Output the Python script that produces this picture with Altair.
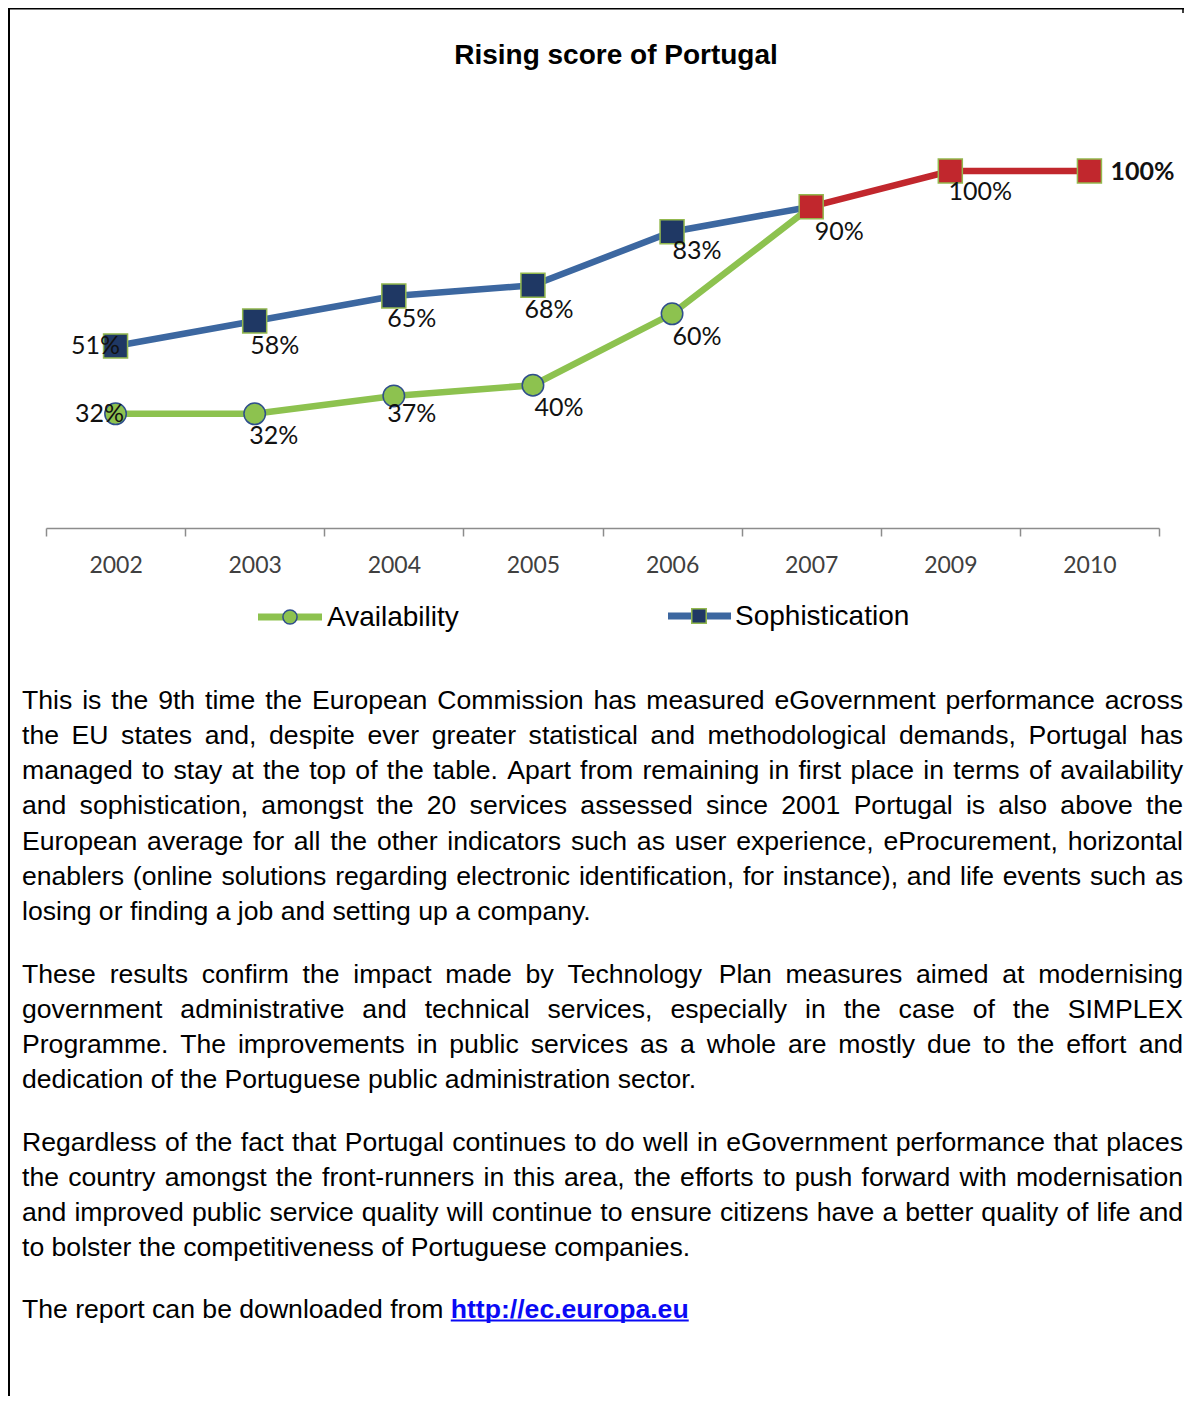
import altair as alt
import pandas as pd

# ---------------- data ----------------
YEARS = ["2002", "2003", "2004", "2005", "2006", "2007", "2009", "2010"]
AVAILABILITY = [32, 32, 37, 40, 60, 90, 100, 100]
SOPHISTICATION = [51, 58, 65, 68, 83, 90, 100, 100]
TITLE = "Rising score of Portugal"
LEGEND = ["Availability", "Sophistication"]

P1 = [
    "This is the 9th time the European Commission has measured eGovernment performance across",
    "the EU states and, despite ever greater statistical and methodological demands, Portugal has",
    "managed to stay at the top of the table. Apart from remaining in first place in terms of availability",
    "and sophistication, amongst the 20 services assessed since 2001 Portugal is also above the",
    "European average for all the other indicators such as user experience, eProcurement, horizontal",
    "enablers (online solutions regarding electronic identification, for instance), and life events such as",
    "losing or finding a job and setting up a company.",
]
P2 = [
    "These results confirm the impact made by Technology Plan measures aimed at modernising",
    "government administrative and technical services, especially in the case of the SIMPLEX",
    "Programme. The improvements in public services as a whole are mostly due to the effort and",
    "dedication of the Portuguese public administration sector.",
]
P3 = [
    "Regardless of the fact that Portugal continues to do well in eGovernment performance that places",
    "the country amongst the front-runners in this area, the efforts to push forward with modernisation",
    "and improved public service quality will continue to ensure citizens have a better quality of life and",
    "to bolster the competitiveness of Portuguese companies.",
]
LINK_PREFIX = "The report can be downloaded from"
LINK = "http://ec.europa.eu"

# ---------------- layout / style ----------------
W, H = 1176, 1388
X_RANGE = [38, 1151]
Y_RANGE = [520, 163]

C_GREEN = "#8DC24F"
C_BLUE_LINE = "#3C67A0"
C_NAVY = "#1F3864"
C_RED = "#C1272D"
C_CIRCLE_EDGE = "#2F4E8C"
C_SQ_EDGE = "#93B84E"
LABEL_COLOR = "#111111"

# label offsets (pixels) for points where the two series differ, then where they coincide
AV_LABEL_DX = [-16, 19, 18, 26, 25]
AV_LABEL_DY = [0, 22, 18, 23, 23]
SO_LABEL_DX = [-20, 20, 18, 16, 25]
SO_LABEL_DY = [0, 25, 23, 25, 19]
BOTH_LABEL_DX = [28, 30, 53]
BOTH_LABEL_DY = [25, 21, 1]

BODY_FONT = "Liberation Sans"
BODY_SIZE = 26.6
TX0, TX1 = 14, 1175
LINE_H = 35.3

# Arial / Liberation Sans advance widths (per 1000 em)
_W = {" ": 278, ".": 278, ",": 278, "(": 333, ")": 333, "-": 333, "/": 278, ":": 278, "'": 191, "%": 889}
for _c in "0123456789":
    _W[_c] = 556
_W.update(dict(A=667, B=667, C=722, D=722, E=667, F=611, G=778, H=722, I=278, J=500, K=667, L=556, M=833,
               N=722, O=778, P=667, Q=778, R=722, S=667, T=611, U=722, V=667, W=944, X=667, Y=667, Z=611))
_W.update(dict(a=556, b=556, c=500, d=556, e=556, f=278, g=556, h=556, i=222, j=222, k=500, l=222, m=833,
               n=556, o=556, p=556, q=556, r=333, s=500, t=278, u=556, v=500, w=722, x=500, y=500, z=500))
_WB = {"h": 611, "t": 333, "p": 611, ":": 333, "/": 278, "e": 556, "c": 556, ".": 278, "u": 611,
       "r": 389, "o": 611, "a": 556}


def tw(s, size=BODY_SIZE, table=_W):
    return sum(table.get(ch, 556) for ch in s) * size / 1000.0


def layout(lines, y0):
    left, right = [], []
    for i, line in enumerate(lines):
        y = y0 + i * LINE_H
        if i == len(lines) - 1:
            left.append({"t": line, "x": TX0, "y": y})
            continue
        words = line.split(" ")
        widths = [tw(w) for w in words]
        gap = (TX1 - TX0 - sum(widths)) / (len(words) - 1)
        x = TX0
        for j, (w, ww) in enumerate(zip(words, widths)):
            if j == len(words) - 1:
                right.append({"t": w, "x": TX1, "y": y})
            else:
                left.append({"t": w, "x": x, "y": y})
            x += ww + gap
    return left, right


rows_l, rows_r = [], []
for lines, y0 in [(P1, 700.5), (P2, 974.5), (P3, 1142.5)]:
    a, b = layout(lines, y0)
    rows_l += a
    rows_r += b
P4_Y = 1309.5
rows_l.append({"t": LINK_PREFIX, "x": TX0, "y": P4_Y})
link_x = TX0 + tw(LINK_PREFIX + " ")
link_w = tw(LINK, table=_WB)

words_left = pd.DataFrame(rows_l)
words_right = pd.DataFrame(rows_r)

# ---------------- chart data ----------------
av = pd.DataFrame({"year": YEARS, "value": AVAILABILITY})
so = pd.DataFrame({"year": YEARS, "value": SOPHISTICATION})
same = [a == s for a, s in zip(AVAILABILITY, SOPHISTICATION)]
first_same = same.index(True)
av_line = av.iloc[: first_same + 1]
so_line = so.iloc[: first_same + 1]
both = so[same].reset_index(drop=True)
diff = [not s for s in same]
av_pts = av[diff].reset_index(drop=True)
so_pts = so[diff].reset_index(drop=True)

XSCALE = alt.Scale(domain=YEARS, range=X_RANGE, paddingInner=0, paddingOuter=0)
YSCALE = alt.Scale(domain=[0, 100], range=Y_RANGE)

AXIS = alt.Axis(title=None, domainColor="#8C8C8C", domainWidth=1.5, tickColor="#8C8C8C", tickWidth=1.5,
                tickSize=8, tickBand="extent", labelFont="Lato", labelFontSize=23, labelColor="#404040",
                labelPadding=18, labelAngle=0, grid=False, offset=520 - H)


def X(axis=None):
    if axis is None:
        return alt.X("year:N", sort=YEARS, scale=XSCALE, axis=None)
    return alt.X("year:N", sort=YEARS, scale=XSCALE, axis=axis)


def Y():
    return alt.Y("value:Q", scale=YSCALE, axis=None)


one = pd.DataFrame({"d": [0]})
layers = []

# border
layers.append(alt.Chart(one).mark_rule(color="black", strokeWidth=1.5).encode(
    x=alt.value(0), x2=alt.value(W), y=alt.value(0.75)))
layers.append(alt.Chart(one).mark_rule(color="black", strokeWidth=2).encode(
    x=alt.value(1), y=alt.value(0), y2=alt.value(H)))
layers.append(alt.Chart(one).mark_rule(color="black", strokeWidth=1.5).encode(
    x=alt.value(W - 1), y=alt.value(0), y2=alt.value(5)))

# title
layers.append(alt.Chart(one).mark_text(text=TITLE, font=BODY_FONT, fontSize=28, fontWeight="bold",
                                       align="center", baseline="alphabetic", color="black").encode(
    x=alt.value(608), y=alt.value(56)))

# lines
layers.append(alt.Chart(av_line).mark_line(color=C_GREEN, strokeWidth=6.5).encode(x=X(AXIS), y=Y()))
layers.append(alt.Chart(so_line).mark_line(color=C_BLUE_LINE, strokeWidth=6.5).encode(x=X(), y=Y()))
layers.append(alt.Chart(both).mark_line(color=C_RED, strokeWidth=6.5).encode(x=X(), y=Y()))

# markers
layers.append(alt.Chart(av_pts).mark_point(shape="circle", filled=True, size=460, fill=C_GREEN,
                                           stroke=C_CIRCLE_EDGE, strokeWidth=1.5, opacity=1).encode(x=X(), y=Y()))
layers.append(alt.Chart(so_pts).mark_point(shape="square", filled=True, size=576, fill=C_NAVY,
                                           stroke=C_SQ_EDGE, strokeWidth=1.5, opacity=1).encode(x=X(), y=Y()))
layers.append(alt.Chart(both).mark_point(shape="square", filled=True, size=576, fill=C_RED,
                                         stroke=C_SQ_EDGE, strokeWidth=1.5, opacity=1).encode(x=X(), y=Y()))

# value labels
def label_layers(df, dxs, dys, bold_last=False):
    out = []
    for i in range(len(df)):
        row = df.iloc[[i]].copy()
        row["lbl"] = [f"{int(v)}%" for v in row["value"]]
        weight = "bold" if (bold_last and i == len(df) - 1) else "normal"
        out.append(alt.Chart(row).mark_text(font="Lato", fontSize=25, fontWeight=weight, color=LABEL_COLOR,
                                            align="center", baseline="middle", dx=dxs[i], dy=dys[i]).encode(
            x=X(), y=Y(), text="lbl:N"))
    return out


layers += label_layers(av_pts, AV_LABEL_DX, AV_LABEL_DY)
layers += label_layers(so_pts, SO_LABEL_DX, SO_LABEL_DY)
layers += label_layers(both, BOTH_LABEL_DX, BOTH_LABEL_DY, bold_last=True)

# legend
LEG_Y = 609
layers.append(alt.Chart(one).mark_rule(color=C_GREEN, strokeWidth=7).encode(
    x=alt.value(250), x2=alt.value(314), y=alt.value(LEG_Y)))
layers.append(alt.Chart(one).mark_point(shape="circle", filled=True, size=200, fill=C_GREEN,
                                        stroke=C_CIRCLE_EDGE, strokeWidth=1.5, opacity=1).encode(
    x=alt.value(282), y=alt.value(LEG_Y)))
layers.append(alt.Chart(one).mark_text(text=LEGEND[0], font=BODY_FONT, fontSize=28, align="left",
                                       baseline="middle", color="black").encode(
    x=alt.value(319), y=alt.value(LEG_Y + 1)))
layers.append(alt.Chart(one).mark_rule(color=C_BLUE_LINE, strokeWidth=7).encode(
    x=alt.value(660), x2=alt.value(723), y=alt.value(LEG_Y - 1)))
layers.append(alt.Chart(one).mark_point(shape="square", filled=True, size=210, fill=C_NAVY,
                                        stroke=C_SQ_EDGE, strokeWidth=1.5, opacity=1).encode(
    x=alt.value(691), y=alt.value(LEG_Y - 1)))
layers.append(alt.Chart(one).mark_text(text=LEGEND[1], font=BODY_FONT, fontSize=28, align="left",
                                       baseline="middle", color="black").encode(
    x=alt.value(727), y=alt.value(LEG_Y)))

# body text
layers.append(alt.Chart(words_left).mark_text(font=BODY_FONT, fontSize=BODY_SIZE, align="left",
                                              baseline="alphabetic", color="black").encode(
    x=alt.X("x:Q", scale=None, axis=None), y=alt.Y("y:Q", scale=None, axis=None), text="t:N"))
layers.append(alt.Chart(words_right).mark_text(font=BODY_FONT, fontSize=BODY_SIZE, align="right",
                                               baseline="alphabetic", color="black").encode(
    x=alt.X("x:Q", scale=None, axis=None), y=alt.Y("y:Q", scale=None, axis=None), text="t:N"))

# link
layers.append(alt.Chart(one).mark_text(text=LINK, font=BODY_FONT, fontSize=BODY_SIZE, fontWeight="bold",
                                       align="left", baseline="alphabetic", color="#0A0AF5").encode(
    x=alt.value(link_x), y=alt.value(P4_Y)))
layers.append(alt.Chart(one).mark_rule(color="#0A0AF5", strokeWidth=2.2).encode(
    x=alt.value(link_x), x2=alt.value(link_x + link_w), y=alt.value(P4_Y + 3)))

chart = alt.layer(*layers).resolve_scale(x="independent", y="independent").properties(
    width=W, height=H, autosize=alt.AutoSizeParams(type="none"), padding=0, background="white"
).configure_view(stroke=None)

chart.save("out.html", embed_options={"renderer": "svg", "actions": False})
